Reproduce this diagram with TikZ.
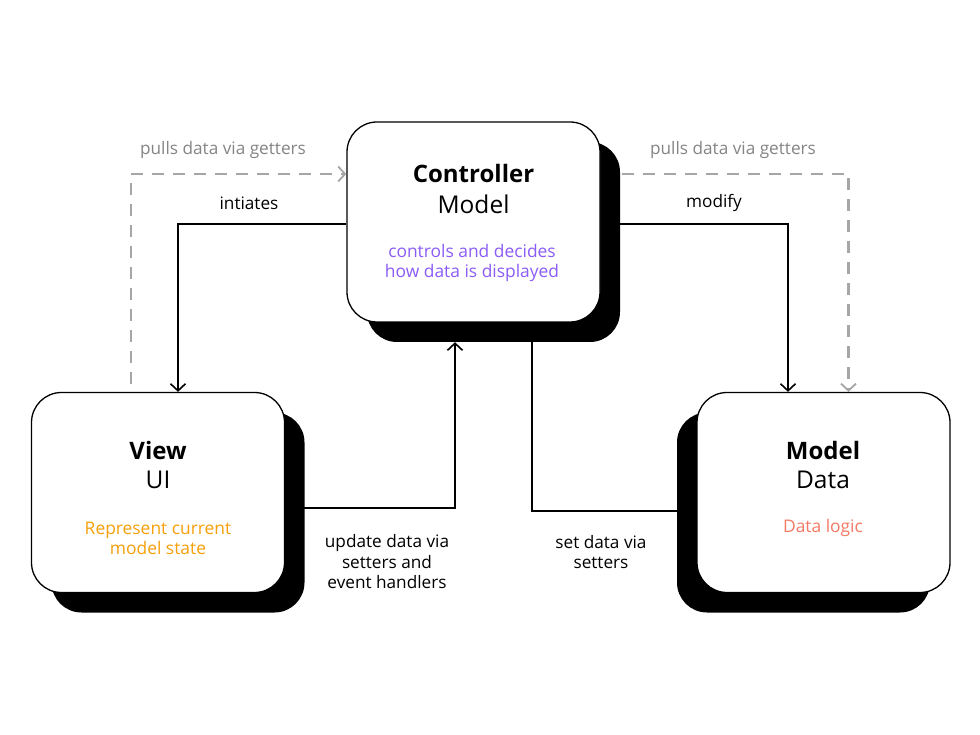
\documentclass[tikz,border=0pt]{standalone}
\usepackage{fontspec}
\setmainfont{Open Sans}
\usetikzlibrary{arrows.meta}
\pgfdeclarelayer{bg}
\pgfdeclarelayer{paper}
\pgfsetlayers{paper,bg,main}
\definecolor{cpurple}{HTML}{8B5CF6}
\definecolor{corange}{HTML}{F5A00A}
\definecolor{csalmon}{HTML}{F47A66}
\definecolor{cdash}{HTML}{A6A6A6}
\definecolor{cglabel}{HTML}{858585}
\tikzset{
  box/.style={draw=black,line width=1.3pt,fill=white,rounded corners=30pt,minimum width=253pt,minimum height=200pt,inner sep=0pt},
  shadowbox/.style={fill=black,rounded corners=30pt,minimum width=253pt,minimum height=200pt,inner sep=0pt},
  conn/.style={draw=black,line width=2pt},
  tip/.style={-{Straight Barb[length=7pt,width=15pt,line width=1.6pt]}},
  pulls/.style={draw=cdash,line width=2.4pt,dash pattern=on 12pt off 9pt},
  dtip/.style={-{Straight Barb[length=7pt,width=15pt,line width=1.8pt,color=cdash]}},
  title/.style={font=\fontsize{24}{28}\selectfont\bfseries},
  sub/.style={font=\fontsize{24.5}{28}\selectfont},
  desc/.style={font=\fontsize{17.4}{20.5}\selectfont,align=center},
  lbl/.style={font=\fontsize{17.2}{20.5}\selectfont,align=center},
}
\begin{document}
\begin{tikzpicture}[x=1pt,y=-1pt]
\begin{pgfonlayer}{paper}
\fill[white] (0,0) rectangle (980,735);
\end{pgfonlayer}
\useasboundingbox (0,0) rectangle (980,735);
% shadows
\node[shadowbox] (cshadow) at (493.5,242) {};
\node[shadowbox] (vshadow) at (178,512.5) {};
\node[shadowbox] (mshadow) at (803.5,512.5) {};
% boxes
\node[box] (ctrl) at (473.5,222) {};
\node[box] (view) at (158,492.5) {};
\node[box] (model) at (823.5,492.5) {};
% box texts
\node[title] (ctitle) at (473.5,174) {Controller};
\node[sub] (csub) at (473.5,204) {Model};
\node[desc,text=cpurple] (cdesc) at (472,263) {controls and decides\\how data is displayed};
\node[title] (vtitle) at (158,450) {View};
\node[sub] (vsub) at (158,480) {UI};
\node[desc,text=corange] (vdesc) at (158,538.5) {Represent current\\model state};
\node[title] (mtitle) at (823,450) {Model};
\node[sub] (msub) at (823,480) {Data};
\node[desc,text=csalmon] (mdesc) at (823,528) {Data logic};
% labels
\node[lbl,text=cglabel] (lpullL) at (223,150) {pulls data via getters};
\node[lbl,text=cglabel] (lpullR) at (733,150) {pulls data via getters};
\node[lbl] (linit) at (249,203) {intiates};
\node[lbl] (lmod) at (714,203) {modify};
\node[lbl] (lupd) at (387,562) {update data via\\setters and\\event handlers};
\node[lbl] (lset) at (601,552) {set data via\\setters};
% connectors
\begin{pgfonlayer}{bg}
\draw[pulls,dtip,shorten <=8pt] ([xshift=-27pt]view.north) |- ([yshift=48pt]ctrl.west);
\draw[pulls,dtip] ([yshift=48pt]ctrl.east) -| ([xshift=25pt]model.north);
\draw[conn,tip] ([yshift=-2pt]ctrl.west) -| ([xshift=20pt]view.north);
\draw[conn,tip] ([yshift=-2pt]ctrl.east) -| ([xshift=-35.5pt]model.north);
\draw[conn,tip] ([yshift=-15.5pt]view.east) -| ([xshift=-38.5pt]cshadow.south);
\draw[conn] ([xshift=58pt]ctrl.south) |- ([yshift=2pt]mshadow.west);
\end{pgfonlayer}
\end{tikzpicture}
\end{document}
